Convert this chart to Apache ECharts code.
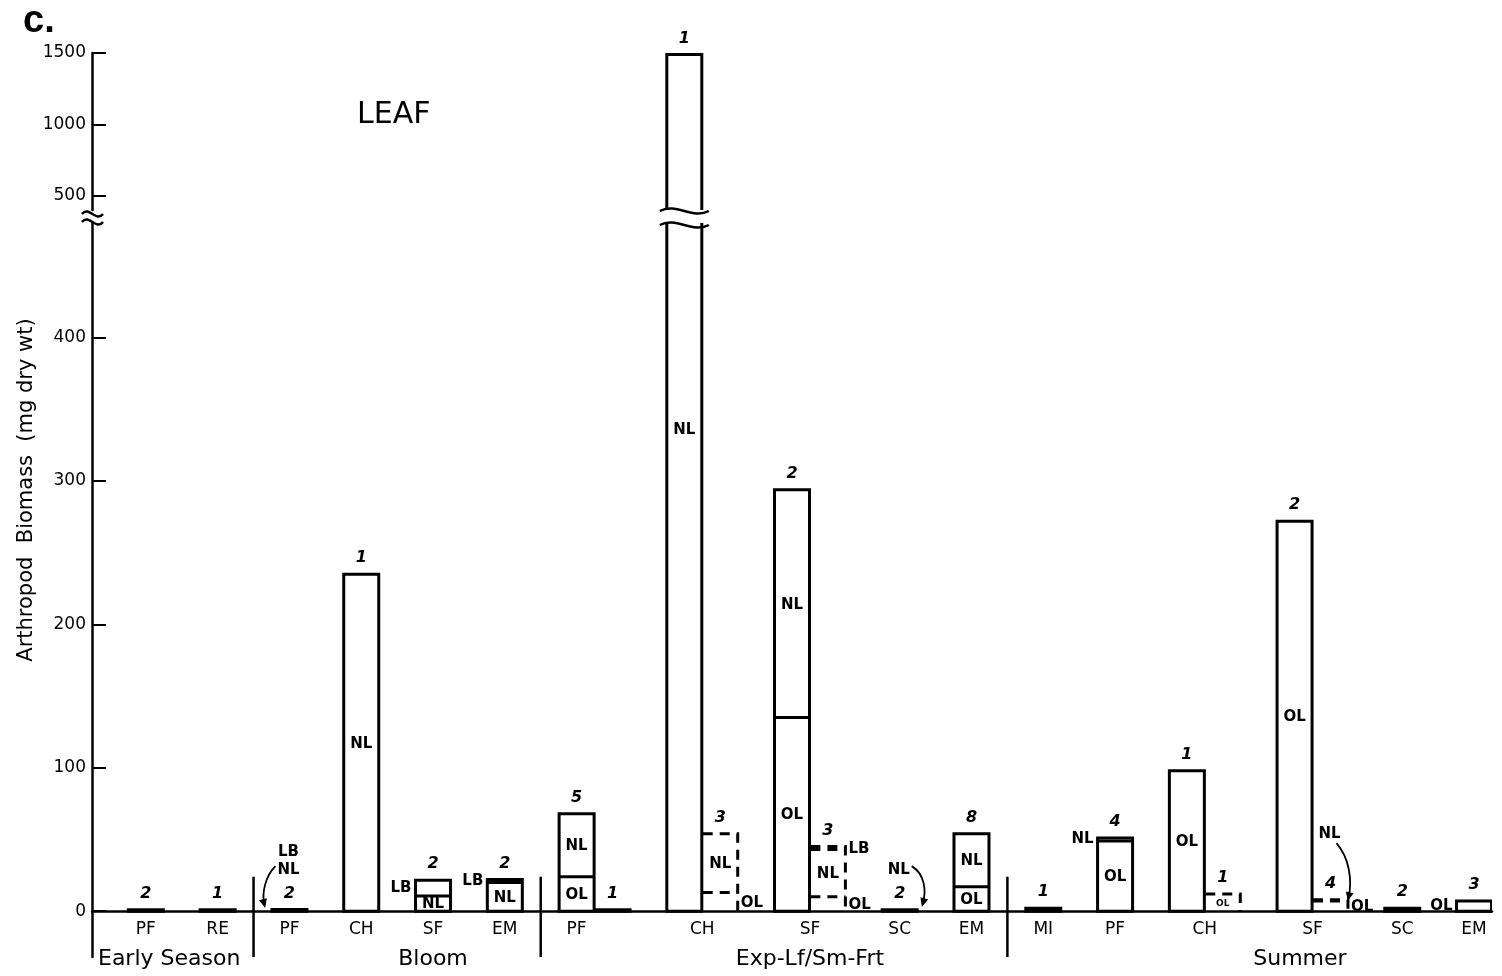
<!DOCTYPE html>
<html><head><meta charset="utf-8">
<script src="https://cdn.jsdelivr.net/npm/echarts@6.0.0/dist/echarts.min.js"></script>
<style>html,body{margin:0;padding:0;background:#fff}#c{width:1502px;height:976px}</style>
</head><body><div id="c"></div>
<script>
// ================= DATA =================
const seasons = ['Early Season', 'Bloom', 'Exp-Lf/Sm-Frt', 'Summer'];
const stationSeason = [0, 0, 1, 1, 1, 1, 2, 2, 2, 2, 2, 3, 3, 3, 3, 3, 3];
const stationNames = ['PF', 'RE', 'PF', 'CH', 'SF', 'EM', 'PF', 'CH', 'SF', 'SC', 'EM', 'MI', 'PF', 'CH', 'SF', 'SC', 'EM'];
// main (solid) bars, stacked components (mg dry wt)
const mainOL = [null, null, null, null, null, null, 24, null, 135, null, 17, null, 49, 98, 272, null, 7];
const mainNL = [1, 1, 0.6, 235, 10.5, 20, 44, 1490, 159, 1, 37, 2, 2, null, null, 2, null];
const mainLB = [null, null, 0.6, null, 11, 2, null, null, null, null, null, null, null, null, null, null, null];
const mainN = ['2', '1', '2', '1', '2', '2', '5', '1', '2', '2', '8', '1', '4', '1', '2', '2', '3'];
// second bars next to some stations
const secondOL = [null, null, null, null, null, null, null, 13, 10, null, null, null, null, 12, 7, null, null];
const secondNL = [null, null, null, null, null, null, 1, 41, 33, null, null, null, null, null, 1, null, null];
const secondLB = [null, null, null, null, null, null, null, null, 2, null, null, null, null, null, null, null, null];
const secondN = [null, null, null, null, null, null, '1', '3', '3', null, null, null, null, '1', '4', null, null];
const lowerTicks = [0, 100, 200, 300, 400];
const upperTicks = [500, 1000, 1500];

// ================= LAYOUT / STYLE =================
const LOWER_MIN = -32, LOWER_MAX = 480, UPPER_MIN = 400, UPPER_MAX = 1500;
const GRID_LEFT = 92, GRID_W = 1400, LOWER_TOP = 223, LOWER_H = 734, UPPER_TOP = 53, UPPER_H = 157;
const ZERO_OFFSET = -(0 - LOWER_MIN) * LOWER_H / (LOWER_MAX - LOWER_MIN); // label axes sit on y = 0
const SEP_TOP = 24;                             // separator lines reach this value above 0
const BAR_FRAC = 0.975;                         // bar width as share of a slot
const LW = 3;                                   // bar outline width
const DASH = [10, 7];
const solidSecond = [6];                        // second bars drawn solid (others dashed)
const seasonLabelAt = [2.15, 9.5, 20.0, 33.65]; // in slot units
const FONT = 'DejaVu Sans';
const innerLabels = {
  3: {main: {NL: 'inside'}},
  4: {main: {LB: 'left', NL: 'inside'}},
  5: {main: {LB: 'left', NL: 'inside'}},
  6: {main: {OL: 'inside', NL: 'inside'}},
  7: {main: {NL: 'far'}, second: {NL: 'inside', OL: 'right'}},
  8: {main: {OL: 'inside', NL: 'inside'}, second: {NL: 'inside', OL: 'right', LB: 'right'}},
  10: {main: {OL: 'inside', NL: 'inside'}},
  12: {main: {OL: 'inside', NL: 'left'}},
  13: {main: {OL: 'inside'}, second: {OL: 'tiny'}},
  14: {main: {OL: 'inside'}, second: {OL: 'right'}},
  16: {main: {OL: 'left'}}
};
// curved arrow notes: offsets from (slot centre, y of 0)
const arrowNotes = [
  {station: 2, kind: 'main', text: 'LB\nNL', t: [-1, -50], p: [[-14, -45], [-24, -35], [-28, -18], [-25, -6]]},
  {station: 9, kind: 'main', text: 'NL', t: [-1, -41], p: [[12, -45], [25, -37], [27, -21], [23, -7]]},
  {station: 14, kind: 'second', text: 'NL', t: [-1, -77], p: [[6, -68], [19, -53], [22, -31], [18, -13]]}
];

// ================= BUILD SLOTS =================
const COMPS = ['OL', 'NL', 'LB'];
const mainComp = {OL: mainOL, NL: mainNL, LB: mainLB};
const secondComp = {OL: secondOL, NL: secondNL, LB: secondLB};
const hasSecond = i => secondOL[i] != null || secondNL[i] != null || secondLB[i] != null;
const slotKeys = [], separatorSlots = [], bars = [];
stationNames.forEach((nm, i) => {
  const gk = 'gap' + slotKeys.length;
  slotKeys.push(gk);
  if (i > 0 && stationSeason[i] !== stationSeason[i - 1]) separatorSlots.push(slotKeys.length - 1);
  slotKeys.push(seasons[stationSeason[i]] + ' ' + nm);
  bars.push({slot: slotKeys.length - 1, st: i, kind: 'main', src: mainComp});
  if (hasSecond(i)) {
    slotKeys.push(seasons[stationSeason[i]] + ' ' + nm + ' (2)');
    bars.push({slot: slotKeys.length - 1, st: i, kind: 'second', src: secondComp});
  }
});
const NSLOT = slotKeys.length;
bars.forEach(b => {
  b.vals = COMPS.map(c => b.src[c][b.st] || 0);
  b.total = b.vals.reduce((a, v) => a + v, 0);
  b.n = (b.kind === 'main' ? mainN : secondN)[b.st];
  b.dashed = b.kind === 'second' && solidSecond.indexOf(b.st) < 0;
});
const barData = bars.map(b => [b.slot].concat(b.vals));
const findBar = (st, kind) => bars.find(b => b.st === st && b.kind === kind);

// station label positions (slot units)
const stationLabelPos = stationNames.map((nm, i) => {
  const m = findBar(i, 'main').slot;
  return (hasSecond(i) && solidSecond.indexOf(i) < 0) ? m + 1 : m + 0.5;
});
const keyOf = v => v.toFixed(3);
const stationLabelMap = {};
stationLabelPos.forEach((v, i) => { stationLabelMap[keyOf(v)] = stationNames[i]; });
const seasonLabelMap = {};
seasonLabelAt.forEach((v, i) => { seasonLabelMap[keyOf(v)] = seasons[i]; });

// ================= RENDERERS =================
function txt(text, x, y, align, size, extra) {
  return {type: 'text', silent: true, z2: 10,
    style: Object.assign({text: text, x: x, y: y, fill: '#000', font: (extra || '') + size + 'px "' + FONT + '"',
      align: align, verticalAlign: 'middle'})};
}
function makeBarRenderer(withLabels) {
  return function (params, api) {
    const b = bars[params.dataIndex];
    const slot = api.value(0);
    const p0 = api.coord([slot, 0]);
    const w = api.size([1, 0])[0] * BAR_FRAC;
    const xl = p0[0] - w / 2, xr = p0[0] + w / 2;
    const segs = [];
    let cum = 0, yPrev = p0[1];
    COMPS.forEach((c, k) => {
      const v = api.value(k + 1);
      if (!(v > 0)) return;
      cum += v;
      const y = api.coord([slot, cum])[1];
      segs.push({comp: c, y0: yPrev, y1: y});
      yPrev = y;
    });
    const yTop = yPrev;
    const children = [];
    const stroke = {stroke: '#000', lineWidth: LW, fill: null, lineDash: b.dashed ? DASH : null};
    if (b.dashed) {
      children.push({type: 'polyline', silent: true, shape: {points: [[xl, yTop], [xr, yTop], [xr, p0[1]]]}, style: stroke});
    } else {
      children.push({type: 'rect', silent: true, shape: {x: xl, y: yTop, width: w, height: p0[1] - yTop},
        style: {fill: '#fff', stroke: '#000', lineWidth: LW}});
    }
    for (let k = 0; k < segs.length - 1; k++) {
      children.push({type: 'line', silent: true, shape: {x1: xl, y1: segs[k].y1, x2: xr, y2: segs[k].y1}, style: stroke});
    }
    if (withLabels) {
      const cfg = innerLabels[b.st] && innerLabels[b.st][b.kind];
      const gridTop = params.coordSys.y;
      segs.forEach(sg => {
        const pos = cfg && cfg[sg.comp];
        if (!pos) return;
        const ym = (sg.y0 + Math.max(sg.y1, gridTop)) / 2;
        if (pos === 'inside') children.push(txt(sg.comp, p0[0], ym + 1, 'center', 15, 'bold '));
        else if (pos === 'left') children.push(txt(sg.comp, xl - 4, ym, 'right', 15, 'bold '));
        else if (pos === 'right') children.push(txt(sg.comp, xr + 3, ym + 1, 'left', 15, 'bold '));
        else if (pos === 'far') children.push(txt(sg.comp, p0[0], Math.max(sg.y1, gridTop) + 207, 'center', 15, 'bold '));
        else if (pos === 'tiny') children.push(txt(sg.comp, p0[0], ym + 1, 'center', 9, 'bold '));
      });
    }
    return {type: 'group', children: children};
  };
}
function makeCountRenderer(lo, hi) {
  return function (params, api) {
    const b = bars[params.dataIndex];
    if (!b.n || b.total < lo || b.total > hi) return null;
    const p = api.coord([api.value(0), b.total]);
    return txt(b.n, p[0], p[1] - 16, 'center', 16, 'italic bold ');
  };
}
function renderSeparator(params, api) {
  const a = api.coord([api.value(0), SEP_TOP]);
  const c = api.coord([api.value(0), LOWER_MIN]);
  return {type: 'line', silent: true, shape: {x1: a[0], y1: a[1], x2: c[0], y2: c[1]},
    style: {stroke: '#000', lineWidth: 2.5}};
}

const axisLineStyle = {color: '#000', width: 2.5};
const tickFmt = v => String(v);
const chart = echarts.init(document.getElementById('c'), null, {renderer: 'canvas'});
chart.setOption({
  animation: false,
  backgroundColor: '#fff',
  title: [
    {text: 'c.', left: 18, top: -2, textStyle: {fontFamily: 'Liberation Sans', fontWeight: 'bold', fontSize: 38, color: '#000'}},
    {text: 'LEAF', left: 352, top: 95, textStyle: {fontFamily: FONT, fontWeight: 'normal', fontSize: 30, color: '#000'}}
  ],
  grid: [
    {left: GRID_LEFT, width: GRID_W, top: LOWER_TOP, height: LOWER_H, outerBoundsMode: 'none', containLabel: false},
    {left: GRID_LEFT, width: GRID_W, top: UPPER_TOP, height: UPPER_H, outerBoundsMode: 'none', containLabel: false}
  ],
  xAxis: [
    {type: 'category', gridIndex: 0, data: slotKeys, position: 'bottom',
      axisLine: {show: true, onZero: true, lineStyle: axisLineStyle}, axisTick: {show: false},
      axisLabel: {show: false}, splitLine: {show: false}},
    {type: 'value', gridIndex: 0, min: 0, max: NSLOT, position: 'bottom', offset: ZERO_OFFSET,
      axisLine: {show: false, onZero: false}, axisTick: {show: false}, splitLine: {show: false},
      axisLabel: {show: true, customValues: stationLabelPos, margin: 10, color: '#000', fontFamily: FONT, fontSize: 17,
        formatter: v => stationLabelMap[keyOf(v)] || ''}},
    {type: 'value', gridIndex: 0, min: 0, max: NSLOT, position: 'bottom', offset: ZERO_OFFSET,
      axisLine: {show: false, onZero: false}, axisTick: {show: false}, splitLine: {show: false},
      axisLabel: {show: true, customValues: seasonLabelAt, margin: 37, color: '#000', fontFamily: FONT, fontSize: 22,
        formatter: v => seasonLabelMap[keyOf(v)] || ''}},
    {type: 'category', gridIndex: 1, data: slotKeys, show: false}
  ],
  yAxis: [
    {type: 'value', gridIndex: 0, min: LOWER_MIN, max: LOWER_MAX,
      axisLine: {show: true, lineStyle: axisLineStyle},
      axisTick: {show: true, inside: true, length: 14, customValues: lowerTicks, lineStyle: {color: '#000', width: 2}},
      axisLabel: {show: true, customValues: lowerTicks, margin: 6, color: '#000', fontFamily: FONT, fontSize: 17, formatter: tickFmt},
      splitLine: {show: false}},
    {type: 'value', gridIndex: 1, min: UPPER_MIN, max: UPPER_MAX,
      axisLine: {show: true, lineStyle: axisLineStyle},
      axisTick: {show: true, inside: true, length: 14, customValues: upperTicks, lineStyle: {color: '#000', width: 2}},
      axisLabel: {show: true, customValues: upperTicks, margin: 6, color: '#000', fontFamily: FONT, fontSize: 17, formatter: tickFmt},
      splitLine: {show: false}}
  ],
  series: [
    {type: 'custom', name: 'bars', xAxisIndex: 0, yAxisIndex: 0, clip: true, silent: true,
      encode: {x: 0, y: 1}, data: barData, renderItem: makeBarRenderer(true)},
    {type: 'custom', name: 'bars-upper', xAxisIndex: 3, yAxisIndex: 1, clip: true, silent: true,
      encode: {x: 0, y: 1}, data: barData, renderItem: makeBarRenderer(false)},
    {type: 'custom', name: 'n', xAxisIndex: 0, yAxisIndex: 0, clip: false, silent: true, z: 5,
      encode: {x: 0, y: 1}, data: barData, renderItem: makeCountRenderer(-Infinity, LOWER_MAX)},
    {type: 'custom', name: 'n-upper', xAxisIndex: 3, yAxisIndex: 1, clip: false, silent: true, z: 5,
      encode: {x: 0, y: 1}, data: barData, renderItem: makeCountRenderer(UPPER_MIN, Infinity)},
    {type: 'custom', name: 'separators', xAxisIndex: 0, yAxisIndex: 0, clip: false, silent: true,
      encode: {x: 0, y: 1}, data: separatorSlots.map(s => [s, 0]), renderItem: renderSeparator}
  ]
});

// ================= DECORATIONS (axis break marks, arrows, axis title) =================
function toPx(slot, val) { return chart.convertToPixel({xAxisIndex: 0, yAxisIndex: 0}, [slotKeys[slot], val]); }
function toPxU(slot, val) { return chart.convertToPixel({xAxisIndex: 3, yAxisIndex: 1}, [slotKeys[slot], val]); }
function wave(x0, x1, y) {
  return {type: 'bezierCurve', z: 101, silent: true,
    shape: {x1: x0, y1: y, x2: x1, y2: y, cpx1: x0 + (x1 - x0) / 3, cpy1: y - 9, cpx2: x0 + 2 * (x1 - x0) / 3, cpy2: y + 9},
    style: {stroke: '#000', lineWidth: 2.5, fill: null}};
}
const gfx = [];
const lowerTopY = toPx(0, LOWER_MAX)[1];
const upperBotY = toPxU(0, UPPER_MIN)[1];
const slotW = toPx(1, 0)[0] - toPx(0, 0)[0];
const axisX = toPx(0, 0)[0] - slotW / 2;
gfx.push(wave(axisX - 10, axisX + 11, upperBotY + 4));
gfx.push(wave(axisX - 10, axisX + 11, lowerTopY - 1));
// break marks on bars taller than the lower panel
bars.forEach(b => {
  if (b.total <= LOWER_MAX) return;
  const cx = toPx(b.slot, 0)[0], hw = slotW * BAR_FRAC / 2 + 7;
  gfx.push(wave(cx - hw, cx + hw, upperBotY + 1));
  gfx.push(wave(cx - hw, cx + hw, lowerTopY + 2));
});
// arrow notes
arrowNotes.forEach(a => {
  const o = toPx(findBar(a.station, a.kind).slot, 0);
  const P = a.p.map(q => [o[0] + q[0], o[1] + q[1]]);
  gfx.push({type: 'text', z: 101, silent: true, x: o[0] + a.t[0], y: o[1] + a.t[1],
    style: {text: a.text, fill: '#000', font: 'bold 15px "' + FONT + '"', align: 'center', verticalAlign: 'middle', lineHeight: 18}});
  gfx.push({type: 'bezierCurve', z: 101, silent: true,
    shape: {x1: P[0][0], y1: P[0][1], cpx1: P[1][0], cpy1: P[1][1], cpx2: P[2][0], cpy2: P[2][1], x2: P[3][0], y2: P[3][1]},
    style: {stroke: '#000', lineWidth: 1.8, fill: null}});
  const dx = P[3][0] - P[2][0], dy = P[3][1] - P[2][1], L = Math.hypot(dx, dy) || 1;
  const ux = dx / L, uy = dy / L, nx = -uy, ny = ux;
  const tip = [P[3][0] + ux * 3, P[3][1] + uy * 3];
  gfx.push({type: 'polygon', z: 101, silent: true,
    shape: {points: [tip, [tip[0] - ux * 9 + nx * 4, tip[1] - uy * 9 + ny * 4], [tip[0] - ux * 9 - nx * 4, tip[1] - uy * 9 - ny * 4]]},
    style: {fill: '#000'}});
});
// y-axis title
gfx.push({type: 'text', z: 101, silent: true, x: 27, y: 490, rotation: Math.PI / 2,
  style: {text: 'Arthropod  Biomass  (mg dry wt)', fill: '#000', font: '21px "' + FONT + '"', align: 'center', verticalAlign: 'middle'}});
chart.setOption({graphic: {elements: gfx}});
</script></body></html>
